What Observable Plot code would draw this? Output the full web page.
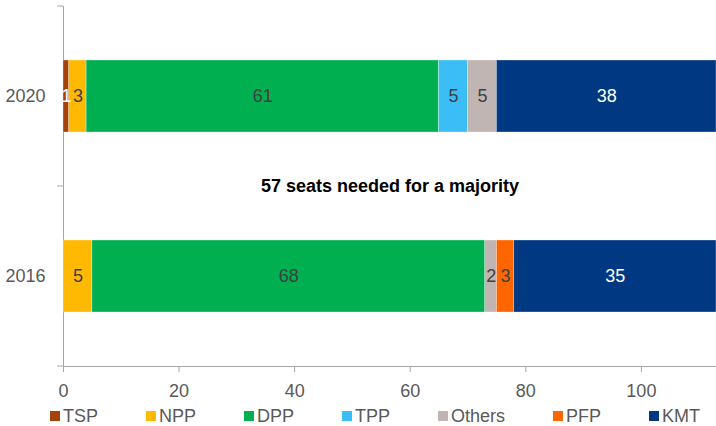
<!DOCTYPE html>
<html>
<head>
<meta charset="utf-8">
<script src="https://cdn.jsdelivr.net/npm/d3@7"></script>
<script src="https://cdn.jsdelivr.net/npm/@observablehq/plot@0.6"></script>
<style>
  html, body { margin: 0; padding: 0; background: #fff; }
  #chart { width: 716px; height: 426px; position: relative; font-family: "Liberation Sans", Arial, sans-serif; }
  #chart svg { display: block; }
  #chart g[aria-label*="axis"] text { fill: #595959; }
  .legend { display: flex; gap: 48px; padding-left: 50px; height: 26px; align-items: center; margin-top: 3px;
            font-size: 18px; color: #595959; font-family: "Liberation Sans", Arial, sans-serif; }
  .legend .item { display: inline-flex; align-items: center; }
  .legend .sw { width: 10px; height: 10px; margin-right: 3px; display: inline-block; }
</style>
</head>
<body>
<div id="chart"></div>
<script>
const years = ["2020", "2016"];
const parties = ["TSP", "NPP", "DPP", "TPP", "Others", "PFP", "KMT"];
const seats2020 = [1, 3, 61, 5, 5, 0, 38];
const seats2016 = [0, 5, 68, 0, 2, 3, 35];
const partyColors = ["#A5420A", "#FFB900", "#00B050", "#3BBEF5", "#C0B5B3", "#FF6600", "#003882"];
const xTicks = [0, 20, 40, 60, 80, 100];
const xMax = 113;
const annotation = ["57 seats needed for a majority"];
const whiteLabelParties = ["TSP", "KMT"];

const seatsByYear = {"2020": seats2020, "2016": seats2016};
const rows = [];
for (const y of years) {
  parties.forEach((p, i) => {
    const v = seatsByYear[y][i];
    if (v > 0) rows.push({year: y, party: p, seats: v});
  });
}

const plot = Plot.plot({
  width: 716,
  height: 400,
  marginTop: 6,
  marginLeft: 63,
  marginRight: 0,
  marginBottom: 34,
  style: {fontFamily: '"Liberation Sans", Arial, sans-serif', fontSize: "18px", color: "#a6a6a6", background: "#fff"},
  x: {domain: [0, xMax], ticks: xTicks, tickSize: 6, tickPadding: 12, label: null, line: true},
  y: {domain: years, paddingInner: 0.6, paddingOuter: 0.3, tickSize: 0, tickPadding: 18, label: null, line: true},
  color: {domain: parties, range: partyColors},
  marks: [
    Plot.barX(rows, Plot.stackX({x: "seats", y: "year", fill: "party", order: parties, stroke: "white", strokeWidth: 0.6, strokeOpacity: 0.5})),
    Plot.text(rows, Plot.stackX({x: "seats", y: "year", z: "party", order: parties, text: d => String(d.seats),
      fill: d => whiteLabelParties.includes(d.party) ? "white" : "#404040", fontSize: 18})),
    Plot.text(annotation, {text: d => d, frameAnchor: "middle", fontWeight: "bold", fontSize: 18, fill: "black"})
  ]
});

// band-boundary tick marks on the y axis, placed with Plot's own y scale
const ys = plot.scale("y");
const xs = plot.scale("x");
const x0 = xs.apply(0);
const edges = new Set();
for (const d of ys.domain) {
  const c = ys.apply(d) + ys.bandwidth / 2;
  edges.add(Math.round((c - ys.step / 2) * 10) / 10);
  edges.add(Math.round((c + ys.step / 2) * 10) / 10);
}
d3.select(plot).append("g")
  .attr("stroke", "#a6a6a6")
  .selectAll("line")
  .data([...edges])
  .join("line")
  .attr("x1", x0 - 6).attr("x2", x0)
  .attr("y1", d => d).attr("y2", d => d);

const chart = document.getElementById("chart");
chart.appendChild(plot);

const legend = document.createElement("div");
legend.className = "legend";
parties.forEach((p, i) => {
  const item = document.createElement("span");
  item.className = "item";
  const sw = document.createElement("span");
  sw.className = "sw";
  sw.style.background = partyColors[i];
  item.appendChild(sw);
  item.appendChild(document.createTextNode(p));
  legend.appendChild(item);
});
chart.appendChild(legend);
</script>
</body>
</html>
